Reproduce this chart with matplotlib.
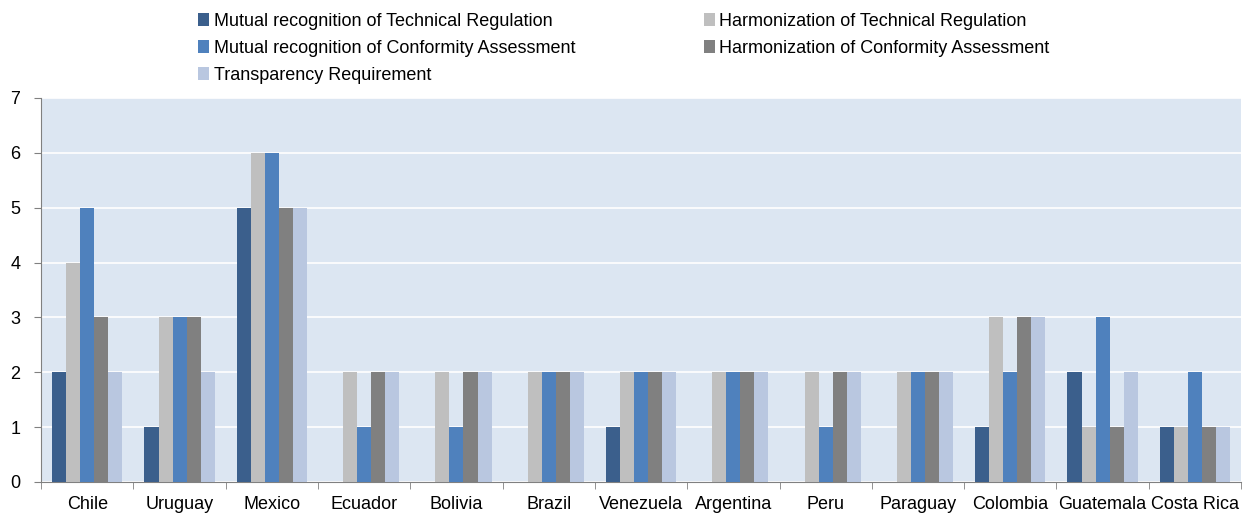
import matplotlib.pyplot as plt
import numpy as np
from matplotlib import font_manager

countries = ['Chile', 'Uruguay', 'Mexico', 'Ecuador', 'Bolivia', 'Brazil', 'Venezuela',
             'Argentina', 'Peru', 'Paraguay', 'Colombia', 'Guatemala', 'Costa Rica']

mr_tech = [2, 1, 5, 0, 0, 0, 1, 0, 0, 0, 1, 2, 1]
harm_tech = [4, 3, 6, 2, 2, 2, 2, 2, 2, 2, 3, 1, 1]
mr_conf = [5, 3, 6, 1, 1, 2, 2, 2, 1, 2, 2, 3, 2]
harm_conf = [3, 3, 5, 2, 2, 2, 2, 2, 2, 2, 3, 1, 1]
transp = [2, 2, 5, 2, 2, 2, 2, 2, 2, 2, 3, 2, 1]

series = [
    ('Mutual recognition of Technical Regulation', mr_tech, '#3B5F8C'),
    ('Harmonization of Technical Regulation', harm_tech, '#BFBFBF'),
    ('Mutual recognition of Conformity Assessment', mr_conf, '#4F81BD'),
    ('Harmonization of Conformity Assessment', harm_conf, '#808080'),
    ('Transparency Requirement', transp, '#B9C7E0'),
]

names = [f.name for f in font_manager.fontManager.ttflist]
if 'Liberation Sans Narrow' in names:
    plt.rcParams['font.family'] = ['Liberation Sans Narrow', 'DejaVu Sans']
else:
    plt.rcParams['font.family'] = ['Liberation Sans', 'DejaVu Sans']

fig = plt.figure(figsize=(12.46, 5.21), dpi=100)
ax = fig.add_axes([0.033, 0.075, 0.963, 0.737])
ax.set_facecolor('#DCE6F2')

x = np.arange(len(countries))
w = 0.152
bars = []
for i, (label, vals, col) in enumerate(series):
    b = ax.bar(x + (i - 2) * w, vals, w, color=col, label=label, zorder=3)
    bars.append(b)

ax.set_xlim(-0.5, len(countries) - 0.5)
ax.set_ylim(0, 7)
ax.set_yticks(range(8))
ax.yaxis.grid(True, color='white', linewidth=1.2, zorder=1)
ax.set_axisbelow(True)

ax.set_xticks(x)
ax.set_xticklabels(countries, fontsize=13)
ax.set_xticks(np.arange(-0.5, len(countries)), minor=True)
ax.tick_params(axis='x', which='major', length=0, pad=10)
ax.tick_params(axis='x', which='minor', length=5, color='#808080', direction='out')
ax.tick_params(axis='y', labelsize=13, length=5, color='#808080', pad=10)

for s in ['top', 'right']:
    ax.spines[s].set_visible(False)
for s in ['left', 'bottom']:
    ax.spines[s].set_color('#808080')

# legend: three rows in the left column, two in the right
order = [0, 2, 4, 1, 3]
handles = [bars[i] for i in order]
labels = [series[i][0] for i in order]
fig.legend(handles, labels, ncol=2, loc='upper left', bbox_to_anchor=(0.146, 1.006),
           frameon=False, fontsize=13, handlelength=0.6, handleheight=0.7,
           handletextpad=0.25, labelspacing=0.55, columnspacing=7.15)

fig.savefig('out.png', dpi=100)
